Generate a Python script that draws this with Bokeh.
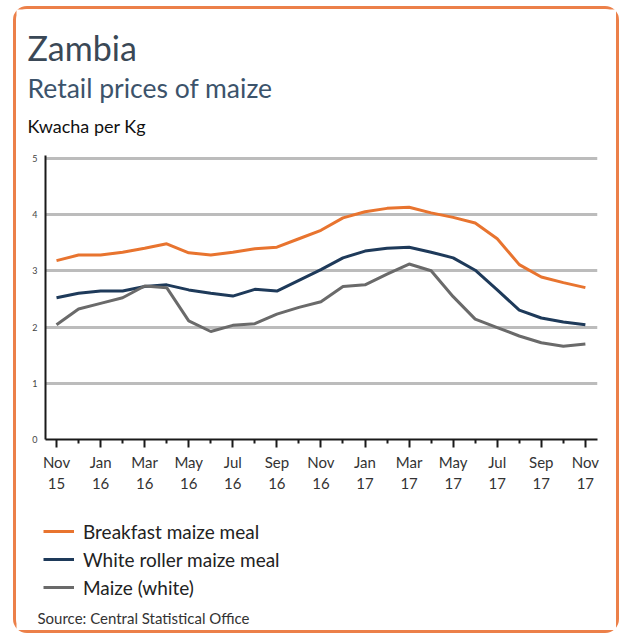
from bokeh.plotting import figure
from bokeh.layouts import column
from bokeh.models import Label, Legend, LegendItem, FixedTicker, Range1d
from bokeh.embed import file_html
from bokeh.resources import INLINE

# ---- data ----
months = ["Nov 15", "Dec 15", "Jan 16", "Feb 16", "Mar 16", "Apr 16", "May 16",
          "Jun 16", "Jul 16", "Aug 16", "Sep 16", "Oct 16", "Nov 16", "Dec 16",
          "Jan 17", "Feb 17", "Mar 17", "Apr 17", "May 17", "Jun 17", "Jul 17",
          "Aug 17", "Sep 17", "Oct 17", "Nov 17"]
breakfast = [3.18, 3.28, 3.28, 3.33, 3.40, 3.48, 3.32, 3.28, 3.33, 3.39, 3.42, 3.57,
             3.72, 3.94, 4.05, 4.11, 4.13, 4.03, 3.95, 3.85, 3.57, 3.11, 2.89, 2.79, 2.70]
white_roller = [2.52, 2.60, 2.64, 2.64, 2.72, 2.75, 2.66, 2.60, 2.55, 2.67, 2.64, 2.83,
                3.02, 3.23, 3.35, 3.40, 3.42, 3.33, 3.23, 3.01, 2.66, 2.30, 2.16, 2.09, 2.04]
maize_white = [2.04, 2.32, 2.42, 2.52, 2.73, 2.70, 2.11, 1.92, 2.03, 2.06, 2.23, 2.35,
               2.45, 2.72, 2.75, 2.94, 3.12, 3.00, 2.54, 2.14, 1.99, 1.84, 1.72, 1.66, 1.70]
series_names = ["Breakfast maize meal", "White roller maize meal", "Maize (white)"]
y_ticks = [0, 1, 2, 3, 4, 5]

title = "Zambia"
subtitle = "Retail prices of maize"
unit_label = "Kwacha per Kg"
source_note = "Source: Central Statistical Office"

x = list(range(len(months)))
major_idx = x[::2]
minor_idx = x[1::2]
tick_labels = {i: months[i].replace(" ", "\n") for i in major_idx}

# ---- layout ----
FONT = "Lato"
ORANGE = "#e8742f"
NAVY = "#1e3a5a"
GREY = "#6a6a6a"
COLORS = [ORANGE, NAVY, GREY]
W = 600
TOP_H, MAIN_H, BOT_H = 140, 350, 131

# --- header figure (coordinates = pixels from its top-left) ---
top = figure(width=W, height=TOP_H, output_backend="svg", toolbar_location=None,
             x_range=Range1d(0, W), y_range=Range1d(TOP_H, 0),
             x_axis_type=None, y_axis_type=None, min_border=0, frame_align=False,
             background_fill_color="white", border_fill_color="white")
top.outline_line_color = None
top.add_layout(Label(x=11, y=38, text=title, text_font=FONT,
                     text_font_size="34px", text_color="#3a4856",
                     text_baseline="alphabetic"))
top.add_layout(Label(x=11, y=78, text=subtitle, text_font=FONT,
                     text_font_size="26.5px", text_color="#3c536b",
                     text_baseline="alphabetic"))
top.add_layout(Label(x=11, y=116.5, text=unit_label, text_font=FONT,
                     text_font_size="18px", text_color="#111111",
                     text_baseline="alphabetic"))

# --- main chart ---
p = figure(width=W, height=MAIN_H, output_backend="svg", toolbar_location=None,
           x_range=Range1d(-0.5, 24.55), y_range=Range1d(0, 5.05),
           min_border_left=29, min_border_right=19,
           min_border_top=6, min_border_bottom=60, frame_align=False,
           background_fill_color="white", border_fill_color="white")
p.outline_line_color = None

p.xgrid.grid_line_color = None
p.ygrid.ticker = FixedTicker(ticks=y_ticks)
p.ygrid.grid_line_color = "#bcbcbc"
p.ygrid.grid_line_width = 3

xa = p.xaxis[0]
xa.ticker = FixedTicker(ticks=major_idx, minor_ticks=minor_idx)
xa.major_label_overrides = tick_labels
xa.axis_line_color = "#1a1a1a"
xa.axis_line_width = 2
xa.major_tick_line_color = "#1a1a1a"
xa.major_tick_line_width = 2
xa.major_tick_in = 0
xa.major_tick_out = 8
xa.minor_tick_line_color = "#1a1a1a"
xa.minor_tick_line_width = 2
xa.minor_tick_in = 0
xa.minor_tick_out = 4
xa.major_label_text_font = FONT
xa.major_label_text_font_size = "15px"
xa.major_label_text_color = "#333333"
xa.major_label_standoff = 5

ya = p.yaxis[0]
ya.ticker = FixedTicker(ticks=y_ticks)
ya.axis_line_color = "#1a1a1a"
ya.axis_line_width = 2
ya.major_tick_line_color = None
ya.minor_tick_line_color = None
ya.major_tick_out = 0
ya.major_label_text_font = FONT
ya.major_label_text_font_size = "9px"
ya.major_label_text_color = "#444444"
ya.major_label_standoff = 8

for series, color in zip([breakfast, white_roller, maize_white], COLORS):
    p.line(x, series, line_color=color, line_width=3)

# --- footer: legend + source ---
bot = figure(width=W, height=BOT_H, output_backend="svg", toolbar_location=None,
             x_range=Range1d(0, W), y_range=Range1d(BOT_H, 0),
             x_axis_type=None, y_axis_type=None, min_border=0, frame_align=False,
             background_fill_color="white", border_fill_color="white")
bot.outline_line_color = None
items = []
for name, series, color in zip(series_names, [breakfast, white_roller, maize_white], COLORS):
    r = bot.line(x, series, line_color=color, line_width=3, visible=False)
    items.append(LegendItem(label=name, renderers=[r]))
legend = Legend(items=items, location=(27, 29), orientation="vertical",
                glyph_width=31, glyph_height=28, label_height=28, spacing=0,
                label_standoff=9, padding=0, margin=0,
                label_text_font=FONT, label_text_font_size="19px",
                label_text_color="#222222", inactive_fill_alpha=0,
                border_line_color=None, background_fill_alpha=0)
bot.add_layout(legend, "center")
bot.add_layout(Label(x=21, y=118, text=source_note, text_font=FONT,
                     text_font_size="15px", text_color="#333333",
                     text_baseline="alphabetic"))

layout = column(top, p, bot, spacing=0,
                styles={"border": "3px solid #ec8049", "border-radius": "14px",
                        "margin-left": "13px", "margin-top": "6px",
                        "background-color": "white"})

open("out.html", "w").write(file_html(layout, INLINE))
